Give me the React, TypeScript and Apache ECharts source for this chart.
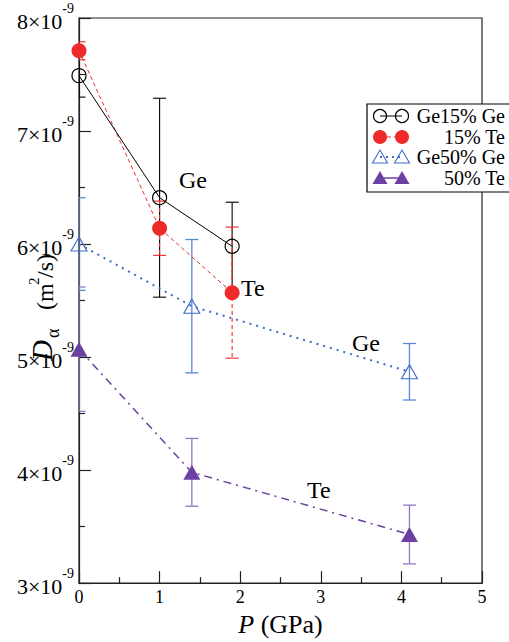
import React, { useEffect, useRef } from "react";
import * as echarts from "echarts";

// Diffusion coefficients in units of 1e-9 m^2/s
const pressure15 = [0, 1, 1.9];
const ge15Ge = [7.49, 6.41, 5.98];
const ge15GeErr = [0.19, 0.88, 0.39];
const te15 = [7.71, 6.14, 5.57];
const te15Err = [0.08, 0.24, 0.58];

const pressure50 = [0, 1.4, 4.1];
const ge50Ge = [6.0, 5.45, 4.87];
const ge50GeErr = [0.41, 0.59, 0.25];
const te50 = [5.07, 3.98, 3.43];
const te50Err = [0.55, 0.3, 0.26];

const xTicks = [0, 1, 2, 3, 4, 5];
const yTicks = [3, 4, 5, 6, 7, 8];
const legendNames = ["Ge15% Ge", "15% Te", "Ge50% Ge", "50% Te"];

const FONT = "Liberation Serif";
const BLACK = "#000000";
const RED = "#ee2a2a";
const BLUE = "#3d6cc8";
const PURPLE = "#6b40a0";
const BLUE_ERR = "#5a86d6";
const PURPLE_ERR = "#9477c2";

function pairs(xs: number[], ys: number[]) {
  return xs.map((x, i) => [x, ys[i]]);
}
function errPairs(xs: number[], ys: number[], es: number[]) {
  return xs.map((x, i) => [x, ys[i] - es[i], ys[i] + es[i]]);
}

function errorSeries(data: number[][], color: string, dashed: boolean, width: number) {
  return {
    type: "custom",
    clip: true,
    z: 1,
    data,
    renderItem: (params: any, api: any) => {
      const x = api.value(0);
      const lo = api.coord([x, api.value(1)]);
      const hi = api.coord([x, api.value(2)]);
      const hw = 6.5;
      const style = {
        stroke: color,
        lineWidth: width,
        lineDash: dashed ? [4, 3] : null,
      };
      return {
        type: "group",
        children: [
          { type: "line", shape: { x1: hi[0], y1: hi[1], x2: lo[0], y2: lo[1] }, style },
          { type: "line", shape: { x1: hi[0] - hw, y1: hi[1], x2: hi[0] + hw, y2: hi[1] }, style: { stroke: color, lineWidth: width } },
          { type: "line", shape: { x1: lo[0] - hw, y1: lo[1], x2: lo[0] + hw, y2: lo[1] }, style: { stroke: color, lineWidth: width } },
        ],
      };
    },
  };
}

function legendGraphic() {
  const children: any[] = [];
  children.push({
    type: "rect",
    shape: { x: 367, y: 104, width: 150, height: 88 },
    style: { fill: "#ffffff", stroke: "#000", lineWidth: 1.2 },
  });
  const rows = [116, 137, 157, 178];
  const x1 = 380;
  const x2 = 402;
  const mk = (i: number, cx: number, cy: number) => {
    if (i === 0)
      return { type: "circle", shape: { cx, cy, r: 6.5 }, style: { fill: "none", stroke: BLACK, lineWidth: 1.2 } };
    if (i === 1)
      return { type: "circle", shape: { cx, cy, r: 7 }, style: { fill: RED } };
    const pts = [[cx - 7.5, cy + 6], [cx + 7.5, cy + 6], [cx, cy - 7]];
    if (i === 2)
      return { type: "polygon", shape: { points: pts }, style: { fill: "none", stroke: BLUE, lineWidth: 1.1 } };
    return { type: "polygon", shape: { points: pts }, style: { fill: PURPLE } };
  };
  const lineStyles = [
    { stroke: BLACK, lineWidth: 1 },
    { stroke: RED, lineWidth: 1, lineDash: [4, 3] },
    { stroke: BLUE, lineWidth: 2, lineDash: [2, 4] },
    { stroke: PURPLE, lineWidth: 1.5 },
  ];
  rows.forEach((cy, i) => {
    children.push({ type: "line", shape: { x1, y1: cy, x2, y2: cy }, style: lineStyles[i] });
    children.push(mk(i, x1, cy));
    children.push(mk(i, x2, cy));
    children.push({
      type: "text",
      style: {
        text: legendNames[i],
        x: 505,
        y: cy,
        align: "right",
        verticalAlign: "middle",
        fontFamily: FONT,
        fontSize: 20,
        fill: "#000",
      },
    });
  });
  return { type: "group", z: 100, children };
}

function annotations() {
  const mk = (text: string, x: number, y: number) => ({
    type: "text",
    z: 50,
    style: { text, x, y, fontFamily: FONT, fontSize: 24, fill: "#000" },
  });
  return [mk("Ge", 179, 168), mk("Te", 241, 276), mk("Ge", 352, 331), mk("Te", 307, 478)];
}

function yTitle() {
  const t = (text: string, x: number, y: number, size: number, italic = false) => ({
    type: "text",
    style: {
      text,
      x,
      y,
      align: "left",
      verticalAlign: "middle",
      fontFamily: FONT,
      fontSize: size,
      fontStyle: italic ? "italic" : "normal",
      fill: "#000",
    },
  });
  return {
    type: "group",
    x: 51,
    y: 361,
    rotation: Math.PI / 2,
    children: [
      t("D", 0, -9, 29, true),
      t("α", 23, 2, 18),
      t("(m", 51, -6, 24),
      t("2", 76, -17, 15),
      t("/s)", 83, -6, 24),
    ],
  };
}

export default function App() {
  const ref = useRef<HTMLDivElement>(null);
  useEffect(() => {
    if (!ref.current) return;
    const chart = echarts.init(ref.current, undefined, { renderer: "svg" });
    const option: any = {
      animation: false,
      backgroundColor: "#ffffff",
      grid: {
        left: 79,
        right: 27,
        top: 18,
        bottom: 49,
        show: true,
        borderColor: "#222",
        borderWidth: 1.2,
        backgroundColor: "transparent",
      },
      xAxis: {
        type: "value",
        min: xTicks[0],
        max: xTicks[xTicks.length - 1],
        interval: 1,
        name: "{i|P}{n| (GPa)}",
        nameLocation: "middle",
        nameGap: 12,
        nameTextStyle: {
          rich: {
            i: { fontFamily: FONT, fontSize: 26, fontStyle: "italic", color: "#000" },
            n: { fontFamily: FONT, fontSize: 26, color: "#000" },
          },
        },
        axisLine: { show: true, lineStyle: { color: "#222", width: 1.2 } },
        axisTick: { show: true, inside: true, length: 12, lineStyle: { color: "#222", width: 1.2 } },
        minorTick: { show: true, splitNumber: 2, length: 6, lineStyle: { color: "#222", width: 1.2 } },
        splitLine: { show: false },
        axisLabel: { fontFamily: FONT, fontSize: 18, color: "#000", margin: 5 },
      },
      yAxis: {
        type: "value",
        min: yTicks[0],
        max: yTicks[yTicks.length - 1],
        interval: 1,
        axisLine: { show: true, lineStyle: { color: "#222", width: 1.2 } },
        axisTick: { show: true, inside: true, length: 12, lineStyle: { color: "#222", width: 1.2 } },
        minorTick: { show: true, splitNumber: 2, length: 6, lineStyle: { color: "#222", width: 1.2 } },
        splitLine: { show: false },
        axisLabel: {
          margin: 5,
          fontFamily: FONT,
          formatter: (v: number) => `{m|${v}×10}{s|-9}`,
          rich: {
            m: { fontFamily: FONT, fontSize: 22, color: "#000", padding: [9, 0, 2, 0], verticalAlign: "bottom" },
            s: { fontFamily: FONT, fontSize: 14, color: "#000", verticalAlign: "top" },
          },
        },
      },
      series: [
        errorSeries(errPairs(pressure15, ge15Ge, ge15GeErr), BLACK, false, 1.1),
        errorSeries(errPairs(pressure15, te15, te15Err), RED, true, 1.1),
        errorSeries(errPairs(pressure50, ge50Ge, ge50GeErr), BLUE_ERR, false, 1.3),
        errorSeries(errPairs(pressure50, te50, te50Err), PURPLE_ERR, false, 1.3),
        {
          type: "line",
          name: legendNames[0],
          data: pairs(pressure15, ge15Ge),
          z: 5,
          symbol: "circle",
          symbolSize: 14,
          lineStyle: { color: BLACK, width: 1 },
          itemStyle: { color: "rgba(0,0,0,0)", borderColor: BLACK, borderWidth: 1.2 },
        },
        {
          type: "line",
          name: legendNames[1],
          data: pairs(pressure15, te15),
          z: 4,
          symbol: "circle",
          symbolSize: 15,
          lineStyle: { color: RED, width: 1, type: [4, 3] },
          itemStyle: { color: RED },
        },
        {
          type: "line",
          name: legendNames[2],
          data: pairs(pressure50, ge50Ge),
          z: 4,
          symbol: "triangle",
          symbolSize: [16, 14],
          lineStyle: { color: BLUE, width: 2, type: [2, 5] },
          itemStyle: { color: "rgba(0,0,0,0)", borderColor: BLUE, borderWidth: 1.1 },
        },
        {
          type: "line",
          name: legendNames[3],
          data: pairs(pressure50, te50),
          z: 4,
          symbol: "triangle",
          symbolSize: [17, 15],
          lineStyle: { color: PURPLE, width: 1.5, type: [8, 5, 2, 5] },
          itemStyle: { color: PURPLE },
        },
      ],
      graphic: [legendGraphic(), ...annotations(), yTitle()],
    };
    chart.setOption(option);
    return () => chart.dispose();
  }, []);
  return (
    <div
      ref={ref}
      style={{ position: "absolute", left: 0, top: 0, width: 509, height: 642 }}
    />
  );
}
